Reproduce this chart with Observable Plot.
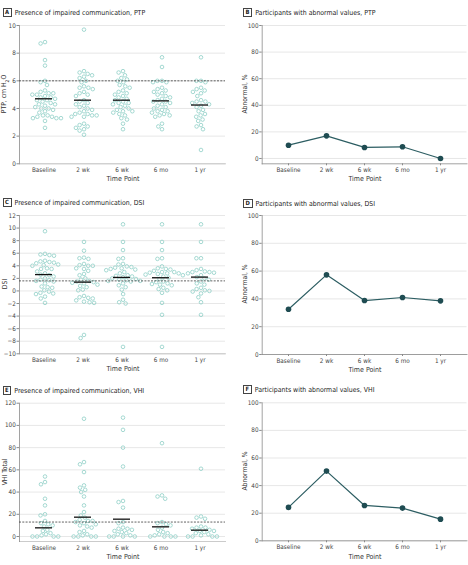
<!DOCTYPE html>
<html>
<head>
<meta charset="utf-8">
<script src="https://cdn.jsdelivr.net/npm/d3@7"></script>
<script src="https://cdn.jsdelivr.net/npm/@observablehq/plot@0.6"></script>
<style>
  html, body { margin: 0; padding: 0; background: #fff; }
  #root { position: relative; width: 468px; height: 565px; overflow: hidden;
    font-family: "DejaVu Sans", "Liberation Sans", sans-serif; font-stretch: condensed; color: #222; }
  #root svg { font-stretch: condensed; }
  .layer { position: absolute; }
  .layer svg { position: absolute; left: 0; top: 0; }
  .title { position: absolute; font-size: 6.9px; line-height: 9px; white-space: nowrap; color: #222; }
  .title .box { display: inline-block; border: 0.8px solid #444; font-weight: bold; font-size: 5.8px; line-height: 7px; padding: 0 1.6px; margin-right: 3px; vertical-align: 0.5px; }
  .lab { position: absolute; font-size: 7px; white-space: nowrap; color: #333; transform: translate(-50%, -50%); }
  .ylab { position: absolute; font-size: 6.8px; white-space: nowrap; color: #333; transform: translate(-50%, -50%) rotate(-90deg); }
  .ylab sub { font-size: 5px; }
</style>
</head>
<body>
<div id="root"></div>
<script>
// ---------- data ----------
const categories = ["Baseline", "2 wk", "6 wk", "6 mo", "1 yr"];

// PTP, cm H2O (panel A)
const ptpBaseline = [8.8, 8.7, 7.5, 7.1, 6.0, 5.9, 5.7, 5.3, 5.2, 5.1, 5.1, 5.0, 5.0, 4.9, 4.8, 4.8, 4.7, 4.6, 4.6, 4.5, 4.4, 4.3, 4.3, 4.2, 4.1, 4.0, 4.0, 3.9, 3.8, 3.7, 3.5, 3.5, 3.4, 3.4, 3.3, 3.3, 3.3, 3.1, 2.6];
const ptp2wk = [9.7, 6.7, 6.6, 6.5, 6.4, 6.3, 6.2, 6.0, 5.9, 5.6, 5.5, 5.5, 5.4, 5.2, 5.1, 5.0, 4.9, 4.6, 4.5, 4.4, 4.3, 4.2, 4.1, 4.0, 3.9, 3.8, 3.7, 3.6, 3.6, 3.5, 3.5, 3.4, 3.4, 2.9, 2.8, 2.7, 2.6, 2.5, 2.4, 2.1];
const ptp6wk = [6.7, 6.6, 6.4, 6.2, 6.1, 6.0, 5.9, 5.7, 5.6, 5.5, 5.3, 5.2, 5.1, 5.0, 4.9, 4.8, 4.7, 4.6, 4.5, 4.4, 4.4, 4.3, 4.2, 4.1, 4.0, 3.9, 3.8, 3.8, 3.7, 3.6, 3.5, 3.3, 3.2, 2.9, 2.5];
const ptp6mo = [7.7, 7.0, 6.0, 6.0, 5.9, 5.9, 5.5, 5.4, 5.3, 5.2, 5.1, 5.0, 4.9, 4.8, 4.7, 4.6, 4.5, 4.5, 4.4, 4.3, 4.2, 4.1, 4.0, 3.9, 3.8, 3.8, 3.7, 3.6, 3.5, 3.5, 3.4, 2.9, 2.7, 2.5];
const ptp1yr = [7.7, 6.0, 6.0, 5.9, 5.5, 5.4, 5.3, 5.2, 5.1, 4.9, 4.6, 4.5, 4.5, 4.4, 4.3, 4.2, 4.1, 3.9, 3.8, 3.6, 3.5, 3.4, 3.2, 3.1, 2.8, 2.7, 2.5, 1.0];
const ptpMeans = [4.7, 4.6, 4.6, 4.55, 4.25];
const ptpCutoff = 6;
const ptpTicks = [0, 2, 4, 6, 8, 10];

// DSI (panel C)
const dsiBaseline = [9.5, 5.9, 5.8, 5.7, 5.6, 4.8, 4.7, 4.6, 4.5, 4.4, 4.2, 4.1, 4.0, 3.6, 3.5, 3.5, 3.1, 2.8, 2.6, 2.5, 2.3, 2.0, 1.8, 1.7, 1.6, 1.5, 1.2, 0.7, 0.6, 0.5, 0.1, -0.1, -0.3, -0.4, -0.5, -0.9, -1.2, -1.9];
const dsi2wk = [7.8, 6.4, 5.3, 5.2, 5.1, 4.3, 4.1, 4.0, 4.0, 3.6, 3.5, 3.2, 2.7, 2.5, 2.0, 1.8, 1.6, 1.5, 1.4, 1.3, 1.2, 1.0, 0.8, 0.6, 0.2, 0.1, -0.8, -1.0, -1.1, -1.2, -1.5, -1.7, -1.8, -1.9, -7.0, -7.5];
const dsi6wk = [10.6, 7.8, 6.5, 5.2, 5.1, 4.3, 4.2, 3.9, 3.8, 3.7, 3.6, 3.5, 3.4, 3.3, 3.0, 2.8, 2.5, 2.4, 2.3, 2.2, 2.0, 1.9, 1.8, 1.7, 1.6, 1.6, 1.5, 1.2, 0.9, 0.6, 0.2, -0.5, -1.4, -1.8, -2.0, -8.9];
const dsi6mo = [10.6, 7.8, 6.5, 5.2, 5.1, 3.9, 3.6, 3.5, 3.4, 3.2, 3.0, 3.0, 2.9, 2.8, 2.8, 2.7, 2.6, 2.5, 2.3, 2.1, 1.9, 1.5, 1.4, 1.2, 1.1, 1.0, 0.9, 0.5, 0.3, 0.1, -0.3, -1.9, -3.8, -8.9];
const dsi1yr = [10.6, 7.8, 5.2, 5.2, 3.5, 3.3, 3.1, 3.0, 3.0, 2.9, 2.8, 2.5, 2.2, 2.0, 1.8, 1.5, 1.2, 1.0, 0.5, 0.3, 0.1, 0.0, -0.1, -0.4, -1.0, -1.8, -3.8];
const dsiMeans = [2.6, 1.4, 2.15, 2.1, 2.2];
const dsiCutoff = 1.6;
const dsiTicks = [-10, -8, -6, -4, -2, 0, 2, 4, 6, 8, 10, 12];

// VHI Total (panel E)
const vhiBaseline = [54, 49, 47, 34, 28, 20, 19, 14, 12, 11, 10, 9, 6, 5, 3, 2, 1, 0, 0, 0, 0];
const vhi2wk = [106, 67, 65, 58, 46, 44, 42, 40, 36, 28, 22, 19, 17, 15, 14, 14, 13, 12, 11, 10, 9, 8, 5, 4, 2, 1, 0, 0, 0, 0];
const vhi6wk = [107, 96, 80, 63, 32, 31, 26, 13, 12, 8, 7, 7, 6, 5, 4, 3, 2, 1, 0, 0, 0, 0];
const vhi6mo = [84, 37, 36, 34, 13, 12, 11, 10, 8, 6, 4, 3, 2, 1, 0, 0, 0, 0];
const vhi1yr = [61, 18, 17, 16, 9, 8, 8, 7, 6, 5, 5, 4, 3, 2, 1, 0, 0, 0, 0];
const vhiMeans = [7.8, 17.4, 15.6, 8.7, 5.7];
const vhiCutoff = 13;
const vhiTicks = [0, 20, 40, 60, 80, 100, 120];

// Participants with abnormal values, % (panels B, D, F)
const ptpAbnormal = [10, 17, 8.3, 8.8, 0];
const dsiAbnormal = [32.6, 57.3, 38.8, 41, 38.6];
const vhiAbnormal = [24.2, 50.5, 25.6, 23.7, 15.7];
const pctTicks = [0, 20, 40, 60, 80, 100];

// ---------- helpers ----------
const root = document.getElementById("root");
const FONT = '"DejaVu Sans", "Liberation Sans", sans-serif';
const DOT = "#8fcfc6";
const GRID = "#dcdcdc";
const AXIS = "#8a8a8a";
const TEXT = "#444";

function long(groups) {
  const rows = [];
  groups.forEach((vals, i) => vals.forEach(v => rows.push({t: categories[i], v})));
  return rows;
}
function addHTML(cls, html, x, y) {
  const d = document.createElement("div");
  d.className = cls; d.innerHTML = html;
  d.style.left = x + "px"; d.style.top = y + "px";
  root.appendChild(d);
}
function addTitle(letter, text, x, yc) {
  addHTML("title", `<span class="box">${letter}</span>${text}`, x, yc - 4.5);
}

function scatterPanel({top, plotTop, plotBottom, groups, means, cutoff, domain, ticks}) {
  const W = 230, H = 172;
  const mt = plotTop - top, mb = H - (plotBottom - top);
  const ml = 19, mr = 5;
  const rows = long(groups);
  const meanRows = means.map((m, i) => ({t: categories[i], m}));
  const xBand = {type: "band", domain: categories, paddingInner: 0.56, paddingOuter: 0.42};
  const common = {width: W, height: H, marginLeft: ml, marginRight: mr, marginTop: mt, marginBottom: mb,
    style: {background: "transparent", fontFamily: FONT, fontStretch: "condensed", fontSize: "6.3px", color: TEXT}};
  // geometry of band centers so the dodge facets line up with the band scale
  const step = (W - ml - mr) / (categories.length - xBand.paddingInner + 2 * xBand.paddingOuter);
  const c0 = ml + step * xBand.paddingOuter + step * (1 - xBand.paddingInner) / 2;
  const L = c0 - step / 2, R = L + step * categories.length;

  const div = document.createElement("div");
  div.className = "layer";
  div.style.left = "0px"; div.style.top = top + "px";
  div.style.width = W + "px"; div.style.height = H + "px";
  root.appendChild(div);

  const base = Plot.plot({
    ...common,
    x: xBand,
    y: {domain},
    marks: [
      Plot.gridY(ticks, {stroke: GRID, strokeOpacity: 1, strokeWidth: 0.7}),
      Plot.frame({anchor: "bottom", stroke: "#b5b5b5", strokeWidth: 0.7}),
      Plot.axisY(ticks, {tickSize: 2.5, tickPadding: 1.2, label: null, stroke: AXIS, fill: TEXT}),
      Plot.axisX({tickSize: 0, tickPadding: 4, label: null, fill: TEXT}),
      Plot.frame({anchor: "left", stroke: AXIS, strokeWidth: 0.8})
    ]
  });
  const dots = Plot.plot({
    ...common,
    marginLeft: L, marginRight: W - R,
    fx: {domain: categories, padding: 0, axis: null, label: null},
    y: {domain, axis: null},
    marks: [
      Plot.dot(rows, Plot.dodgeX("middle", {fx: "t", y: "v", r: 1.8, padding: 0, stroke: DOT, strokeWidth: 0.8, fill: "none"}))
    ]
  });
  const over = Plot.plot({
    ...common,
    x: {...xBand, axis: null},
    y: {domain, axis: null},
    marks: [
      Plot.ruleY([cutoff], {stroke: "#3a3a3a", strokeWidth: 0.8, strokeDasharray: "2,1.3"}),
      Plot.tickY(meanRows, {x: "t", y: "m", stroke: "#111", strokeWidth: 1.3})
    ]
  });
  base.style.background = "#fff";
  div.appendChild(base); div.appendChild(dots); div.appendChild(over);
}

function linePanel({top, plotTop, plotBottom, values, domain}) {
  const W = 238, H = 172;
  const rows = values.map((v, i) => ({t: categories[i], v}));
  const div = document.createElement("div");
  div.className = "layer";
  div.style.left = "230px"; div.style.top = top + "px";
  div.style.width = W + "px"; div.style.height = H + "px";
  root.appendChild(div);
  const chart = Plot.plot({
    width: W, height: H,
    marginLeft: 31.7, marginRight: 1.5, marginTop: plotTop - top, marginBottom: H - (plotBottom - top),
    style: {background: "#fff", fontFamily: FONT, fontStretch: "condensed", fontSize: "6.3px", color: TEXT},
    x: {type: "point", domain: categories, padding: 0.67},
    y: {domain},
    marks: [
      Plot.gridY(pctTicks, {stroke: GRID, strokeOpacity: 1, strokeWidth: 0.7}),
      Plot.frame({anchor: "bottom", stroke: AXIS, strokeWidth: 0.8}),
      Plot.frame({anchor: "left", stroke: AXIS, strokeWidth: 0.8}),
      Plot.axisY(pctTicks, {tickSize: 2.5, tickPadding: 1.2, label: null, stroke: AXIS, fill: TEXT}),
      Plot.axisX({tickSize: 2, tickPadding: 2, label: null, stroke: AXIS, fill: TEXT}),
      Plot.line(rows, {x: "t", y: "v", stroke: "#2c5d62", strokeWidth: 1.2}),
      Plot.dot(rows, {x: "t", y: "v", r: 2.8, fill: "#1f4c52", stroke: "none"})
    ]
  });
  div.appendChild(chart);
}

// ---------- panels ----------
scatterPanel({top: 18, plotTop: 25, plotBottom: 163.3, groups: [ptpBaseline, ptp2wk, ptp6wk, ptp6mo, ptp1yr], means: ptpMeans, cutoff: ptpCutoff, domain: [0, 10], ticks: ptpTicks});
scatterPanel({top: 208, plotTop: 215, plotBottom: 353.3, groups: [dsiBaseline, dsi2wk, dsi6wk, dsi6mo, dsi1yr], means: dsiMeans, cutoff: dsiCutoff, domain: [-10, 12], ticks: dsiTicks});
scatterPanel({top: 394, plotTop: 402.7, plotBottom: 541, groups: [vhiBaseline, vhi2wk, vhi6wk, vhi6mo, vhi1yr], means: vhiMeans, cutoff: vhiCutoff, domain: [-4.5, 120], ticks: vhiTicks});

linePanel({top: 18, plotTop: 25, plotBottom: 163.3, values: ptpAbnormal, domain: [-4, 100]});
linePanel({top: 208, plotTop: 215, plotBottom: 354, values: dsiAbnormal, domain: [0, 100]});
linePanel({top: 394, plotTop: 402.3, plotBottom: 540.3, values: vhiAbnormal, domain: [0, 100]});

// ---------- titles & axis labels ----------
addTitle("A", "Presence of impaired communication, PTP", 2.5, 12);
addTitle("B", "Participants with abnormal values, PTP", 243, 12);
addTitle("C", "Presence of impaired communication, DSI", 2.5, 202.3);
addTitle("D", "Participants with abnormal values, DSI", 243, 203.3);
addTitle("E", "Presence of impaired communication, VHI", 2.5, 390);
addTitle("F", "Participants with abnormal values, VHI", 243, 389);

addHTML("lab", "Time Point", 123, 179);
addHTML("lab", "Time Point", 365, 179.3);
addHTML("lab", "Time Point", 123, 369);
addHTML("lab", "Time Point", 365, 370);
addHTML("lab", "Time Point", 123, 557.3);
addHTML("lab", "Time Point", 365, 556.7);

addHTML("ylab", "PTP, cm H<sub>2</sub>O", 5, 94);
addHTML("ylab", "DSI", 5, 284);
addHTML("ylab", "VHI Total", 4.5, 472);
addHTML("ylab", "Abnormal, %", 245, 94);
addHTML("ylab", "Abnormal, %", 245, 284);
addHTML("ylab", "Abnormal, %", 245, 471);
</script>
</body>
</html>
